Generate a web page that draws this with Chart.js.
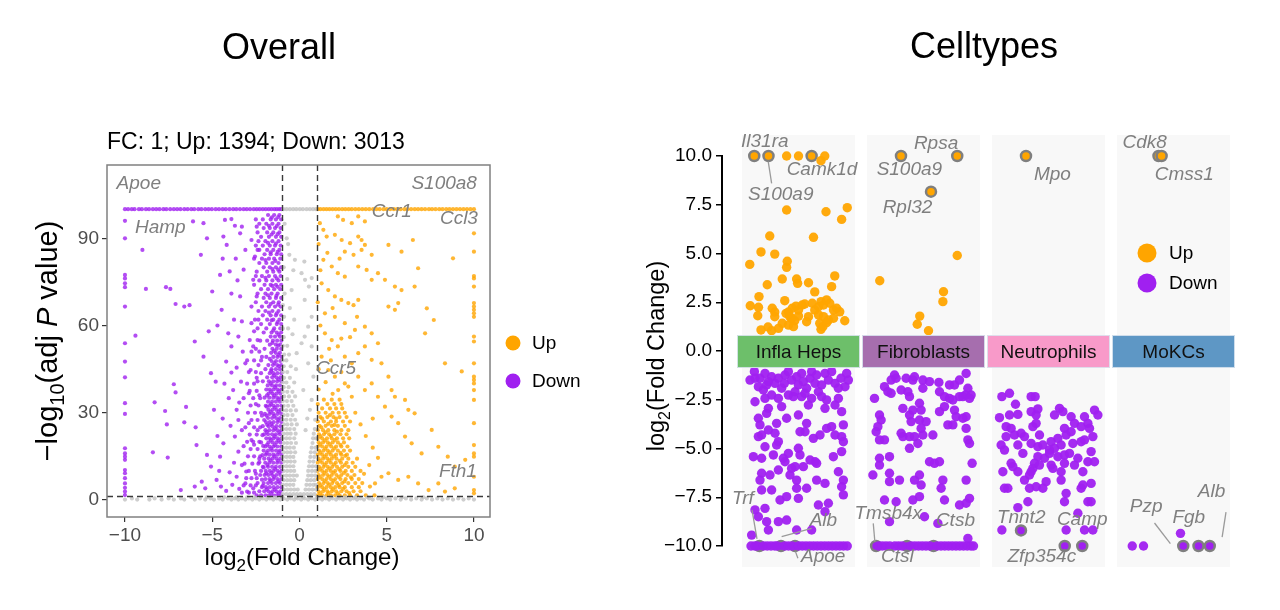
<!DOCTYPE html>
<html><head><meta charset="utf-8">
<script src="https://cdn.jsdelivr.net/npm/chart.js@4.4.0/dist/chart.umd.min.js"></script>
<style>
html,body{margin:0;padding:0;background:#fff;width:1280px;height:610px;overflow:hidden}
canvas{position:absolute;top:0}
#c1{left:0}
#c2{left:620px}
</style></head><body>
<canvas id="c1" width="620" height="610"></canvas>
<canvas id="c2" width="660" height="610"></canvas>
<script>
// ================= DATA : Overall (volcano) =================
const volcanoXTicks = [-10, -5, 0, 5, 10];
const volcanoYTicks = [0, 30, 60, 90];
const volcanoVLines = [-1, 1];
const volcanoHLine = 1.3;
const volcanoSubtitle = 'FC: 1; Up: 1394; Down: 3013';
const legendNames = ['Up', 'Down'];

// points capped at -log10(p) = 100
const downTopX = [-10,-9.82,-9.61,-9.45,-9.2,-9.03,-8.8,-8.62,-8.4,-8.21,-8.02,-7.8,-7.63,-7.41,-7.2,-7.01,-6.82,-6.6,-6.41,-6.2,-6.03,-5.8,-5.62,-5.4,-5.21,-5.02,-4.8,-4.61,-4.4,-4.22,-4.01,-3.8,-3.62,-3.41,-3.2,-3.02,-2.83,-2.62,-2.45,-2.28,-2.1,-1.93,-1.76,-1.6,-1.44,-1.3,-1.16,-1.04];
const upTopX = [1.05,1.2,1.38,1.55,1.72,1.9,2.08,2.26,2.45,2.63,2.82,3.0,3.2,3.4,3.6,3.8,4.0,4.22,4.41,4.6,4.82,5.0,5.2,5.41,5.6,5.8,6.02,6.2,6.4,6.61,6.8,7.0,7.2,7.42,7.6,7.8,8.01,8.2,8.41,8.6,8.8,9.0,9.2,9.4,9.6,9.8,10];
const nsTopX = [-0.92,-0.74,-0.55,-0.36,-0.18,0.02,0.2,0.41,0.6,0.78,0.95];
// points capped at log2FC = -10 / +10
const downColY = [96,90,77.4,76.2,74.5,73.2,66.5,53.9,47.6,42.2,33.3,29.6,17.8,16,14.9,13.8,10.3,9.2,7.5,5.7,4.2,2.9,1.7];
const upColY = [91.7,85.4,77,76.2,73.4,67.7,66.5,65.4,64.2,63,56.2,54.5,47,42.4,41.3,40.1,37.8,34.4,26.4,18.9,16,14.9,8,3.4,2.3];

// dense rows: [y, [x...]]
const downRows = [
 [1.6,[-1.05,-1.3,-1.5,-1.75,-1.95,-2.2,-2.45]],[3.0,[-1.1,-1.32,-1.55,-1.78,-2.02,-2.3]],
 [4.4,[-1.04,-1.26,-1.48,-1.7,-1.92,-2.15]],[5.8,[-1.12,-1.35,-1.58,-1.8,-2.05,-2.4]],
 [7.2,[-1.05,-1.27,-1.5,-1.72,-1.95]],[8.6,[-1.1,-1.33,-1.56,-1.78,-2.0,-2.25]],
 [10,[-1.04,-1.26,-1.49,-1.7,-1.93]],[11.4,[-1.12,-1.35,-1.57,-1.8,-2.1]],
 [12.8,[-1.05,-1.28,-1.5,-1.73,-1.96]],[14.2,[-1.1,-1.32,-1.55,-1.77,-2.02,-2.3]],
 [15.6,[-1.04,-1.26,-1.48,-1.7,-1.92]],[17,[-1.12,-1.34,-1.57,-1.8,-2.05]],
 [18.4,[-1.05,-1.27,-1.5,-1.72,-1.95]],[19.8,[-1.1,-1.33,-1.55,-1.78,-2.2]],
 [21.2,[-1.04,-1.26,-1.48,-1.7,-1.9]],[22.6,[-1.12,-1.35,-1.57,-1.8,-2.02]],
 [24,[-1.05,-1.28,-1.5,-1.73,-1.95]],[25.4,[-1.1,-1.32,-1.55,-1.77,-2.1]],
 [26.8,[-1.04,-1.26,-1.48,-1.7,-1.92]],[28.2,[-1.12,-1.34,-1.57,-1.8]],
 [29.6,[-1.05,-1.27,-1.5,-1.72,-1.98]],[31,[-1.1,-1.33,-1.55,-1.78]],
 [32.4,[-1.04,-1.26,-1.48,-1.7,-1.93]],[33.8,[-1.12,-1.35,-1.57,-1.8]],
 [35.2,[-1.05,-1.28,-1.5,-1.73,-2.0]],[36.6,[-1.1,-1.32,-1.55,-1.77]],
 [38,[-1.04,-1.26,-1.48,-1.7,-1.9]],[39.4,[-1.12,-1.34,-1.57,-1.82]],
 [40.8,[-1.05,-1.28,-1.5,-1.75,-2.1,-2.4]],[42.2,[-1.1,-1.33,-1.56,-1.85]],
 [43.6,[-1.04,-1.27,-1.5,-1.7,-2.2]],[45,[-1.12,-1.35,-1.6,-1.95]],
 [46.4,[-1.05,-1.28,-1.52,-1.78,-2.35]],[47.8,[-1.1,-1.34,-1.6]],
 [49.2,[-1.04,-1.27,-1.5,-1.9,-2.15]],[50.6,[-1.12,-1.36,-1.62]],
 [52,[-1.05,-1.3,-1.55,-2.0,-2.5]],[53.4,[-1.1,-1.35,-1.7]],
 [54.8,[-1.04,-1.28,-1.52,-1.85,-2.25]],[56.2,[-1.12,-1.4,-1.65]],
 [57.6,[-1.05,-1.3,-1.6,-2.05]],[59,[-1.1,-1.45,-1.9,-2.4]],
 [60.5,[-1.05,-1.3,-1.7,-2.2]],[62,[-1.15,-1.5,-1.85,-2.55]],
 [63.5,[-1.05,-1.35,-1.65,-2.1]],[65,[-1.2,-1.55,-1.95,-2.35]],
 [66.5,[-1.08,-1.4,-1.75,-2.15]],[68,[-1.18,-1.5,-1.9,-2.5]],
 [69.5,[-1.05,-1.35,-1.7,-2.05]],[71,[-1.25,-1.6,-1.95,-2.4]],
 [72.5,[-1.1,-1.45,-1.8,-2.2]],[74,[-1.05,-1.35,-1.65,-2.0,-2.6]],
 [75.5,[-1.2,-1.55,-1.9,-2.3]],[77,[-1.08,-1.4,-1.75,-2.15]],
 [78.5,[-1.15,-1.5,-1.85,-2.45]],[80,[-1.05,-1.35,-1.7,-2.05]],
 [81.5,[-1.2,-1.55,-1.9,-2.3]],[83,[-1.1,-1.45,-1.75,-2.15,-2.6]],
 [84.5,[-1.05,-1.3,-1.65,-2.0]],[86,[-1.15,-1.5,-1.85,-2.3]],
 [87.5,[-1.08,-1.4,-1.7,-2.1,-2.5]],[89,[-1.2,-1.55,-1.95,-2.35]],
 [90.5,[-1.05,-1.35,-1.75,-2.2]],[92,[-1.15,-1.5,-1.85,-2.4]],
 [93.5,[-1.08,-1.4,-1.7,-2.05]],[95,[-1.2,-1.55,-1.9,-2.3]],
 [96.5,[-1.05,-1.35,-1.65,-2.1,-2.5]],[98,[-1.15,-1.45,-1.8]]
];
const downRowsOuter = [
 [2.5,[-2.6,-2.9,-3.3]],[5,[-2.5,-2.8,-3.2]],[7.5,[-2.45,-2.75,-3.05]],[10,[-2.2,-2.55,-2.9]],
 [12.5,[-2.35,-2.7,-3.15]],[15,[-2.25,-2.6,-2.95]],[17.5,[-2.4,-2.8]],[20,[-2.3,-2.65,-3.0]],
 [22.5,[-2.45,-2.85]],[25,[-2.25,-2.6,-3.1]],[27.5,[-2.4,-2.75]],[30,[-2.2,-2.55,-2.95]],
 [32.5,[-2.35,-2.8]],[35,[-2.25,-2.65,-3.2]],[37.5,[-2.45,-2.85]],[40,[-2.6,-3.0]],
 [44,[-2.5,-2.9]],[48,[-2.6,-3.0]],[51,[-2.3,-2.75]],[55,[-2.4,-2.85]]
];
const downFill = [[-1.18,2.3],[-1.42,3.6],[-1.63,2.4],[-1.87,3.7],[-2.1,4.9],[-1.2,6.4],[-1.45,7.9],[-1.66,6.6],[-1.9,9.2],[-2.15,7.0],[-1.16,9.4],[-1.4,10.7],[-1.61,9.3],[-1.84,12.0],[-2.05,11.2],[-1.22,13.5],[-1.44,15.0],[-1.66,13.6],[-1.88,16.2],[-2.12,15.4],[-1.17,16.4],[-1.41,18.9],[-1.62,17.7],[-1.86,19.0],[-2.08,18.6],[-1.2,20.5],[-1.43,21.9],[-1.64,20.6],[-1.87,23.4],[-2.12,22.3],[-1.16,23.3],[-1.4,24.6],[-1.61,26.1],[-1.85,25.9],[-2.02,27.5],[-1.21,27.5],[-1.45,28.9],[-1.65,30.3],[-1.89,29.0],[-1.18,30.4],[-1.42,31.8],[-1.63,33.0],[-1.87,32.1],[-1.2,34.6],[-1.44,35.9],[-1.64,37.3],[-1.86,36.0],[-1.18,37.4],[-1.4,38.8],[-1.65,40.1],[-1.2,41.5],[-1.45,42.9],[-1.62,44.4],[-1.18,46],[-1.44,47.1],[-1.7,48.5],[-1.2,49.9],[-1.46,51.3],[-1.22,53.1],[-1.55,54],[-1.2,56.9],[-1.5,58.3],[-1.25,61.2],[-1.6,61.8],[-1.3,64.2],[-1.75,64.4],[-1.22,67.2],[-1.65,67.4],[-1.32,70.2],[-1.8,70.4],[-1.25,73.3],[-1.55,73.6],[-1.3,76.2],[-1.95,76.4],[-1.22,79.2],[-1.55,79.4],[-1.38,82.2],[-1.95,82.5],[-1.25,85.3],[-1.65,85.2],[-1.35,88.2],[-1.8,88.4],[-1.25,91.4],[-1.6,91.3],[-1.3,94.2],[-1.75,94.3],[-1.22,97.3],[-1.58,97.2],[-2.35,62],[-2.45,70],[-2.5,77],[-2.4,86],[-2.45,94],[-2.6,58],[-2.2,48],[-2.45,42],[-2.3,36],[-2.5,33],[-2.15,29],[-2.4,24],[-2.6,19],[-2.3,13],[-2.5,9],[-2.65,4]];
const downScatter = [[-9,86],[-9.4,56.5],[-8.8,72.6],[-7.65,73.2],[-7.4,72.6],[-7.1,67.4],[-6.6,66.5],[-6.3,67],[-6.1,95.8],[-5.5,95.2],[-5.65,84.3],[-6.0,54.5],[-5.5,49.3],[-5.0,71.7],[-5.07,43.6],[-4.8,40.7],[-8.3,33.6],[-7.7,30.6],[-7.6,26],[-7.2,39.8],[-7.1,37],[-6.6,26.7],[-6.5,32],[-5.95,25],[-5.9,18.9],[-8.4,16.4],[-7.55,14.6],[-6.8,3.4],[-6.0,4.6],[-5.6,6.3],[-5.4,4],[-5.07,11.5],[-4.75,6.9],[-4.55,14.9],[-4.5,4.6],[-4.36,19.5],[-4.9,31],[-4.4,83],[-4.27,96.3],[-3.9,96.6],[-3.7,94.3],[-4.36,90.6],[-4.17,87.7],[-4,78.6],[-4.55,77.4],[-4.46,65.4],[-4.08,57.3],[-3.9,52.8],[-4.2,47.6],[-3.9,43.8],[-3.8,37.8],[-4.05,35],[-3.6,31],[-3.7,21.8],[-3.5,16.6],[-3.3,12],[-3.6,8],[-3.1,5.7],[-3.0,2.9],[-3.4,70],[-3.3,61.4],[-3.5,56.2],[-3.1,47],[-3.35,40.7],[-2.9,36.7],[-2.9,26.4],[-2.75,20.6],[-3.2,79.2],[-3.1,86],[-3.4,91.7],[-3.3,94],[-2.75,89.4],[-2.55,83.7],[-2.65,75.7],[-2.75,66.5],[-2.75,60.8],[-2.65,52.8],[-2.8,44.7],[-4.2,3.1],[-3.85,5.2],[-4.0,9.5],[-3.45,3.8],[-3.75,12.8],[-4.6,10],[-3.95,25.5],[-4.4,28],[-3.3,24],[-3.5,27.5],[-4.7,22],[-5.3,15.5],[-3.2,18.5],[-3.05,9.8],[-3.45,33.5],[-4.3,40],[-3.6,45.5],[-3.25,51],[-3.75,62],[-3.9,71],[-3.55,75.5],[-3.65,83],[-4.7,60],[-5.2,58],[-5.3,90]];

const upRows = [
 [1.6,[1.05,1.3,1.55,1.8,2.05,2.3,2.6,2.9,3.3,3.8,4.3]],[3.0,[1.1,1.35,1.6,1.85,2.1,2.4,2.7,3.1,3.5]],
 [4.4,[1.05,1.3,1.55,1.8,2.05,2.3,2.6,3.0,3.4]],[5.8,[1.12,1.38,1.62,1.88,2.15,2.45,2.8,3.2,3.6]],
 [7.2,[1.05,1.3,1.55,1.8,2.05,2.35,2.65,3.0,3.4]],[8.6,[1.1,1.35,1.6,1.85,2.12,2.4,2.75,3.15]],
 [10,[1.05,1.3,1.55,1.8,2.05,2.35,2.65,3.0,3.5]],[11.4,[1.12,1.38,1.62,1.88,2.15,2.45,2.8,3.2]],
 [12.8,[1.05,1.3,1.55,1.8,2.08,2.38,2.7,3.05]],[14.2,[1.1,1.35,1.6,1.85,2.12,2.45,2.8,3.3]],
 [15.6,[1.05,1.3,1.55,1.8,2.1,2.4,2.72]],[17,[1.12,1.38,1.62,1.9,2.2,2.55,2.9]],
 [18.4,[1.05,1.3,1.55,1.82,2.1,2.4,2.75]],[19.8,[1.1,1.35,1.62,1.9,2.2,2.55]],
 [21.2,[1.05,1.3,1.58,1.85,2.15,2.5,2.85]],[22.6,[1.12,1.4,1.7,2.0,2.35,2.7]],
 [24,[1.05,1.35,1.65,2.0,2.4,2.8]],[25.5,[1.15,1.5,1.85,2.2,2.6]],
 [27,[1.05,1.4,1.8,2.1,2.5,2.9]],[28.5,[1.2,1.6,1.95,2.3,2.7]],
 [30,[1.1,1.5,1.9,2.25,2.6]],[31.5,[1.3,1.75,2.1,2.45]],
 [33,[1.05,1.6,2.0,2.4]],[34.5,[1.4,1.85,2.3]]
];
const upFill = [[1.18,2.3],[1.42,3.7],[1.66,2.4],[1.92,3.7],[2.2,2.3],[2.5,3.8],[2.85,2.4],[1.2,5.1],[1.45,6.5],[1.7,5.2],[1.95,6.6],[2.25,5.1],[2.58,6.4],[2.95,7.8],[1.17,7.9],[1.43,9.3],[1.7,8.0],[1.95,9.4],[2.25,7.9],[2.55,9.3],[1.2,10.7],[1.45,12.1],[1.72,10.8],[1.98,12.2],[2.28,10.6],[2.6,12.0],[1.18,13.5],[1.44,14.9],[1.7,13.6],[1.98,15.0],[2.3,13.5],[2.62,15.2],[1.2,16.3],[1.47,17.7],[1.72,16.4],[2.0,17.8],[2.35,16.2],[1.18,19.1],[1.45,20.5],[1.73,19.2],[2.02,20.6],[2.35,19.0],[1.2,21.9],[1.5,23.3],[1.8,22.0],[2.15,23.5],[1.25,25.0],[1.65,26.2],[2.0,25.8],[1.3,28.0],[1.75,29.2],[2.1,28.0]];
const upScatter = [[1.17,95.2],[1.37,92.9],[1.56,90.6],[2.2,97.5],[2.5,96.3],[3.0,95.2],[3.37,97.5],[3.75,95.8],[2.03,91.2],[2.42,89.4],[2.9,88.3],[3.37,90.6],[3.56,89.4],[3.75,87.7],[2.6,85.4],[3.1,84.3],[3.56,86],[4.14,84.3],[5.1,87.7],[5.85,85.4],[6.5,89.4],[1.37,82.6],[1.85,80.3],[2.2,78],[2.6,76.8],[3.37,80.3],[3.85,79.1],[4.14,75.7],[4.5,78],[4.9,75.7],[5.47,73.4],[5.85,72.2],[6.8,79.7],[8.8,83.1],[6.6,73.4],[1.27,74.5],[1.65,72.2],[2.03,70],[2.4,68.8],[2.8,67.7],[3.1,67],[3.37,68.8],[1.46,64.2],[2.03,63],[2.6,60.8],[3.18,58.5],[3.75,59.6],[4.14,57.3],[4.5,53.9],[5.1,66.5],[5.47,65.4],[5.66,67.7],[7.3,65.9],[7.7,61.9],[1.46,57.3],[1.85,55],[2.2,52.8],[2.6,49.3],[3.0,47],[3.37,50.5],[3.75,52.8],[4.14,48.2],[4.7,47],[5.1,42.4],[5.28,37.8],[5.47,35.5],[6.05,34.4],[6.24,31],[6.6,29.8],[7.2,57.3],[8.34,47],[9.3,44.2],[1.27,49.3],[1.65,44.7],[2.03,42.4],[2.22,37.8],[2.6,40.1],[3.0,35.5],[3.37,42.4],[3.75,37.8],[4.14,40.1],[4.5,35.5],[4.9,32.1],[5.28,28.7],[5.66,26.4],[6.05,21.8],[6.43,19.5],[7.0,16],[7.58,24.1],[7.96,18.3],[8.5,14.9],[8.9,11.5],[9.5,13.8],[5.1,9.2],[5.66,6.9],[6.24,8],[6.8,5.7],[7.4,3.4],[7.96,5.7],[8.34,2.9],[8.9,4],[4.33,5.7],[4.7,8],[4.04,4.6],[1.1,38],[1.5,40.5],[1.9,36.5],[2.4,44],[2.8,39],[3.2,30],[3.5,26],[3.8,22],[4.2,18],[4.0,12],[3.7,9],[4.5,14.5],[4.2,28],[1.1,45],[1.8,48],[2.4,55.5],[1.2,60],[1.7,52],[2.9,56],[3.3,63],[1.05,68],[1.9,66],[1.1,88],[1.6,85],[2.3,83],[1.2,79]];

const nsRows = [
 [2.0,[-0.95,-0.75,-0.55,-0.35,-0.15,0.05,0.25,0.45,0.65,0.85]],[3.6,[-0.9,-0.7,-0.5,-0.3,-0.1,0.35,0.55,0.75,0.95]],
 [5.2,[-0.95,-0.75,-0.55,-0.35,0.4,0.6,0.8,0.95]],[6.8,[-0.9,-0.7,-0.5,-0.3,0.45,0.65,0.85]],
 [8.4,[-0.95,-0.75,-0.55,-0.35,-0.15,0.5,0.7,0.9]],[10,[-0.9,-0.7,-0.5,-0.3,0.5,0.72,0.92]],
 [11.6,[-0.95,-0.75,-0.55,-0.35,0.55,0.75,0.95]],[13.2,[-0.9,-0.7,-0.5,-0.28,0.58,0.8]],
 [14.8,[-0.95,-0.75,-0.55,-0.35,0.62,0.85]],[16.4,[-0.9,-0.7,-0.5,-0.25,0.65,0.88]],
 [18,[-0.95,-0.75,-0.55,-0.32,0.7,0.92]],[19.6,[-0.9,-0.7,-0.48,-0.2,0.75]],
 [21.2,[-0.95,-0.75,-0.55,-0.3,0.78,0.95]],[22.8,[-0.9,-0.7,-0.5,-0.22,0.82]],
 [24.4,[-0.95,-0.75,-0.55,-0.3,0.88]],[26,[-0.9,-0.7,-0.45,-0.15]],
 [27.6,[-0.95,-0.75,-0.5,-0.25,0.9]],[29.2,[-0.9,-0.68,-0.4]],
 [30.8,[-0.95,-0.75,-0.5,-0.2]],[32.4,[-0.9,-0.65,-0.35]],
 [34,[-0.95,-0.72,-0.45]],[35.6,[-0.88,-0.6,-0.25]],[37.2,[-0.95,-0.7,-0.4]],
 [38.8,[-0.9,-0.62]],[40.4,[-0.95,-0.75,-0.3]],[42,[-0.88,-0.55]],[44,[-0.95,-0.7]],
 [46,[-0.9,-0.5]],[48,[-0.95,-0.75]],[50,[-0.88,-0.6]],[53,[-0.95,-0.7]],[56,[-0.9]],
 [59,[-0.95,-0.65]],[63,[-0.88]],[67,[-0.95]],[71,[-0.85]],
 [0.15,[-10,-9.3,-8.6,-7.9,-7.2,-6.6,-6.0,-5.4,-4.9,-4.4,-3.9,-3.5,-3.1,-2.7,-2.3,-1.9,-1.5,-1.1,-0.7,-0.3,0.1,0.5,0.9,1.3,1.7,2.1,2.5,2.9,3.3,3.7,4.2,4.7,5.2,5.8,6.4,7.0,7.6,8.2,8.8,9.4,10]],
 [0.55,[-9.6,-8.3,-7.5,-6.8,-5.7,-5.1,-4.6,-4.1,-3.7,-3.3,-2.9,-2.5,-2.1,-1.7,-1.3,-0.9,-0.5,-0.1,0.3,0.7,1.1,1.5,1.9,2.3,2.7,3.1,3.5,4.0,4.5,5.0,5.5,6.1,6.7,7.3,7.9,8.5,9.1,9.7]],
 [0.95,[-6.2,-5.3,-4.3,-3.6,-3.0,-2.6,-2.2,-1.8,-1.4,-1.0,-0.6,-0.2,0.2,0.6,1.0,1.4,1.8,2.2,2.6,3.2,3.9,4.8,5.9,7.1]]
];
const nsScatter = [[-0.73,90],[-0.58,84.3],[-0.26,82.6],[0.28,82],[-0.35,79],[0.12,78],[0.32,75.7],[0.7,76.3],[0.54,73.4],[-0.45,72.2],[0.3,68.8],[0.7,63],[0.5,59.6],[0.3,56.2],[0.12,53.9],[0.7,52.8],[-0.16,50.5],[0.5,47],[0.8,42.4],[0.22,37.8],[0.7,34.4],[-0.85,95],[-0.65,88],[-0.9,80],[-0.7,76],[-0.55,66],[-0.3,62],[-0.4,57],[-0.2,45],[0.45,28],[0.6,31],[0.35,24]];

// ================= DATA : Celltypes =================
const cellTypes = ['Infla Heps', 'Fibroblasts', 'Neutrophils', 'MoKCs'];
const cellYTicks = [-10, -7.5, -5, -2.5, 0, 2.5, 5, 7.5, 10];
// [jitter, log2FC] per cell type
const upInfla = [[-0.095,10],[0,10],[0.21,10],[0.18,9.76],[-0.095,7.23],[0.22,7.14],[0.39,7.35],[0.345,6.75],[-0.23,5.9],[0.12,5.83],[-0.3,5.08],[-0.19,4.97],[-0.39,4.44],[-0.09,4.6],[-0.095,4.29],[-0.13,3.69],[-0.015,3.69],[-0.007,3.47],[0.29,3.85],[-0.25,3.4],[0.265,3.3],[0.08,3.5],[0.13,3.03],[-0.316,2.79],[-0.386,2.32],[-0.32,2.24],[-0.326,1.81],[-0.3,1.08],[-0.244,1.23],[-0.215,1.04],[-0.21,2.19],[-0.19,2.0],[-0.19,1.76],[-0.13,1.42],[-0.1,1.93],[-0.08,2.0],[-0.07,1.76],[-0.05,2.19],[-0.02,2.3],[0,2.1],[0.03,2.36],[0.05,2.41],[-0.055,1.67],[-0.03,1.55],[0,1.79],[-0.08,1.33],[-0.04,1.25],[-0.16,1.16],[-0.11,2.58],[0.11,2.45],[0.13,2.1],[0.16,2.27],[0.18,2.53],[0.2,2.36],[0.225,2.62],[0.25,2.45],[0.28,2.1],[0.305,2.19],[0.33,2.01],[0.37,1.55],[0.16,1.85],[0.2,1.76],[0.24,1.59],[0.28,1.68],[0.17,1.42],[0.225,1.45],[0.195,1.25],[0.18,1.11],[0.08,1.76],[0.065,1.5]];
const upFibro = [[0.27,4.9],[-0.35,3.6],[0.16,3.04],[0.155,2.53],[-0.03,1.79],[-0.05,1.37],[0.04,1.04]];
const upNeutro = [];
const upMoKC = [];
const downInfla = [[-0.388,-1.49],[-0.353,-1.06],[-0.308,-1.4],[-0.268,-1.15],[-0.241,-1.57],[-0.215,-1.32],[-0.321,-1.83],[-0.281,-2.0],[-0.348,-2.6],[-0.188,-1.66],[-0.161,-1.4],[-0.108,-1.23],[-0.113,-1.66],[-0.081,-1.06],[-0.055,-1.49],[-0.015,-1.32],[-0.001,-1.74],[0.025,-1.15],[0.039,-1.57],[0.065,-1.91],[0.092,-1.4],[0.105,-1.06],[0.132,-1.66],[0.159,-2.09],[0.212,-1.15],[0.239,-1.49],[0.265,-1.06],[0.292,-1.66],[0.34,-1.4],[0.372,-1.83],[0.399,-1.49],[0.385,-1.15],[-0.215,-2.26],[-0.161,-2.43],[-0.081,-2.26],[-0.028,-2.09],[0.025,-2.34],[0.052,-2.17],[0.105,-2.43],[0.185,-2.34],[0.225,-2.51],[0.292,-2.77],[0.319,-2.43],[0.345,-3.11],[0.359,-3.79],[-0.321,-3.45],[-0.308,-3.79],[-0.255,-3.2],[-0.241,-2.94],[-0.175,-3.71],[-0.135,-2.85],[-0.095,-3.45],[-0.001,-3.28],[0.065,-3.71],[0.012,-4.14],[0.052,-4.14],[0.119,-4.48],[0.172,-4.31],[0.225,-3.97],[0.265,-3.88],[0.292,-4.31],[0.345,-4.39],[0.359,-4.65],[-0.295,-4.31],[-0.321,-4.39],[-0.241,-4.05],[-0.188,-4.22],[-0.161,-4.65],[-0.175,-4.82],[-0.268,-4.91],[-0.361,-5.42],[-0.295,-5.5],[-0.201,-5.33],[-0.121,-5.5],[-0.108,-5.68],[-0.081,-5.25],[-0.001,-4.99],[0.012,-5.33],[-0.028,-5.93],[0.039,-5.93],[0.092,-5.59],[0.145,-5.76],[0.145,-6.62],[0.279,-5.42],[0.345,-5.16],[0.319,-6.19],[-0.295,-6.27],[-0.308,-6.62],[-0.228,-6.36],[-0.161,-6.1],[-0.068,-6.36],[-0.015,-6.62],[-0.055,-6.02],[0.132,-5.68],[0.212,-6.79],[0.359,-6.62],[0.345,-6.96],[-0.295,-7.13],[-0.215,-7.13],[-0.148,-7.64],[-0.095,-7.47],[-0.015,-7.04],[-0.001,-7.56],[0.065,-7.04],[0.159,-7.9],[0.212,-8.24],[0.359,-7.38],[-0.348,-8.15],[-0.268,-8.07],[-0.321,-8.5],[-0.255,-8.75],[-0.241,-9.18],[-0.161,-8.75],[-0.095,-8.67],[-0.015,-9.18],[-0.375,-9.44],[0.105,-9.18],[0.239,-7.81],[-0.348,-1.4],[-0.255,-1.74],[-0.135,-1.91],[-0.041,-2.34],[0.145,-1.23],[0.185,-1.74],[0.319,-1.91],[0.079,-2.77],[0.212,-2.94],[-0.268,-2.43]];
const downFibro = [[-0.232,-1.23],[-0.259,-1.49],[-0.219,-1.4],[-0.139,-1.4],[-0.085,-1.49],[-0.072,-1.32],[-0.005,-1.49],[0.048,-1.57],[0.123,-1.61],[0.208,-1.74],[0.248,-1.74],[0.288,-1.49],[0.341,-1.15],[0.355,-1.91],[0.381,-2.26],[0.336,-2.26],[-0.312,-1.83],[-0.285,-2.09],[-0.259,-2.17],[-0.392,-2.43],[-0.179,-2.0],[-0.125,-2.09],[-0.112,-2.34],[-0.005,-1.91],[0.128,-2.09],[0.168,-2.34],[0.208,-2.43],[0.235,-2.51],[0.288,-2.34],[0.315,-2.34],[0.368,-2.43],[-0.165,-2.94],[-0.112,-3.28],[-0.085,-3.03],[-0.032,-2.68],[-0.019,-3.03],[-0.032,-3.54],[-0.099,-3.62],[0.021,-3.62],[0.128,-3.11],[0.168,-2.85],[0.248,-3.03],[0.261,-3.37],[0.315,-3.45],[0.341,-3.37],[0.341,-3.97],[0.195,-3.79],[0.235,-3.79],[-0.352,-3.28],[-0.339,-3.54],[-0.365,-3.88],[-0.379,-4.14],[-0.312,-4.56],[-0.352,-4.56],[-0.179,-4.22],[-0.165,-4.39],[-0.112,-4.39],[-0.072,-4.39],[-0.005,-4.31],[0.075,-4.31],[-0.019,-3.97],[-0.045,-4.74],[-0.112,-4.99],[0.355,-4.56],[0.368,-4.74],[0.048,-5.68],[0.088,-5.76],[0.128,-5.68],[-0.352,-5.5],[-0.272,-5.42],[-0.352,-5.85],[-0.405,-6.36],[-0.272,-6.27],[-0.272,-6.7],[-0.192,-6.62],[-0.072,-6.62],[-0.032,-6.36],[-0.019,-6.87],[0.155,-6.62],[0.141,-7.04],[0.341,-6.62],[0.389,-5.76],[0.368,-7.56],[-0.312,-7.64],[-0.219,-7.73],[-0.085,-7.64],[-0.032,-7.47],[0.168,-7.64],[0.288,-7.9],[0.008,-8.5],[-0.272,-8.75],[0.115,-8.84],[0.341,-7.81],[0.355,-9.61]];
const downNeutro = [[-0.373,-2.34],[-0.312,-2.17],[-0.264,-2.73],[-0.139,-2.34],[-0.107,-2.34],[-0.392,-3.42],[-0.312,-3.28],[-0.245,-3.25],[-0.139,-3.11],[-0.099,-3.28],[-0.085,-2.97],[0.048,-3.28],[0.088,-2.94],[0.115,-3.11],[0.181,-3.37],[0.288,-3.37],[0.368,-3.03],[0.395,-3.28],[-0.339,-3.88],[-0.299,-3.97],[-0.339,-4.39],[-0.272,-4.31],[-0.219,-4.22],[-0.192,-4.39],[-0.125,-3.88],[-0.099,-3.71],[-0.072,-4.31],[0.021,-4.65],[0.075,-4.48],[0.128,-3.97],[0.141,-4.31],[0.181,-4.14],[0.208,-3.71],[0.261,-3.88],[0.315,-3.71],[0.328,-3.97],[0.355,-4.39],[-0.379,-4.82],[-0.352,-5.08],[-0.245,-4.82],[-0.139,-4.74],[-0.085,-4.91],[-0.045,-4.82],[0.008,-5.08],[0.048,-4.99],[0.101,-4.82],[0.195,-4.74],[0.261,-4.65],[0.288,-4.56],[0.341,-5.16],[-0.205,-5.25],[-0.085,-5.42],[-0.032,-5.5],[0.008,-5.25],[0.075,-5.42],[0.128,-5.33],[0.168,-5.25],[0.235,-5.5],[0.315,-5.68],[0.368,-5.68],[-0.299,-5.76],[-0.285,-5.93],[-0.112,-5.76],[-0.125,-6.02],[-0.072,-5.85],[0.021,-5.85],[0.035,-6.02],[0.128,-5.76],[0.208,-5.85],[-0.365,-6.19],[-0.245,-6.19],[-0.139,-6.19],[-0.152,-6.36],[0.101,-6.19],[0.275,-6.19],[-0.192,-6.62],[-0.019,-6.7],[0.101,-6.62],[-0.352,-7.04],[-0.325,-7.04],[-0.152,-7.04],[-0.099,-6.96],[-0.045,-7.04],[0.141,-7.3],[0.261,-7.04],[0.275,-6.87],[0.341,-6.79],[-0.245,-8.03],[-0.165,-7.73],[0.128,-7.73],[0.315,-7.73],[0.341,-7.73],[0.235,-8.32],[-0.373,-9.18],[0.141,-9.18],[0.288,-9.18],[0.355,-9.18]];
const downMoKC = [[-0.33,-10],[-0.24,-10],[0.056,-9.35]];
// points at log2FC = -10 floor (jitter only)
const floorInfla = [-0.38,-0.35,-0.33,-0.28,-0.25,-0.22,-0.19,-0.17,-0.11,-0.08,-0.05,0.0,0.03,0.06,0.09,0.12,0.15,0.18,0.21,0.24,0.27,0.3,0.33,0.36,0.39];
const floorFibro = [-0.36,-0.33,-0.3,-0.27,-0.23,-0.2,-0.17,-0.1,-0.07,-0.04,-0.01,0.02,0.05,0.11,0.14,0.17,0.2,0.23,0.26,0.29,0.32,0.35,0.38,0.4];
// highlighted (labelled) genes: [gene, category index, jitter, log2FC]
const upLabelled = [['Il31ra',1,-0.354,10],['S100a9',1,-0.24,10],['Camk1d',1,0.105,10],['S100a9',2,-0.18,10],['Rpsa',2,0.27,10],['Rpl32',2,0.06,8.17],['Mpo',3,-0.18,10],['Cdk8',4,-0.12,10],['Cmss1',4,-0.095,10]];
const downLabelled = [['Trf',1,-0.313,-10],['Alb',1,-0.14,-10],['Apoe',1,-0.028,-10],['Tmsb4x',2,-0.379,-10],['Ctsl',2,-0.131,-10],['Ctsb',2,0.08,-10],['Tnnt2',3,-0.22,-9.2],['Zfp354c',3,0.13,-10],['Camp',3,0.27,-10],['Pzp',4,0.078,-10],['Fgb',4,0.2,-10],['Alb',4,0.29,-10]];

// ================= annotation layout =================
const FF = "'Liberation Sans', Arial, Helvetica, sans-serif";
const C_UP = '#FFA500', C_DOWN = '#A020F0';
const LBL = '#7f7f7f';
const volcanoLabels = [['Apoe',-10.48,108.7,'left'],['S100a8',10.17,108.7,'right'],['Hamp',-9.43,93.6,'left'],['Ccr1',4.14,99.1,'left'],['Ccl3',8.05,96.7,'left'],['Ccr5',0.95,45.1,'left'],['Fth1',7.99,9.6,'left']];
const cellLabels = [['Il31ra',0.54,10.73],['Camk1d',0.905,9.3],['S100a9',0.596,8.0],['Rpsa',1.923,10.62],['S100a9',1.625,9.3],['Rpl32',1.673,7.36],['Mpo',2.883,9.03],['Cdk8',3.592,10.69],['Cmss1',3.85,9.03],['Trf',0.468,-7.59],['Alb',1.089,-8.72],['Apoe',1.02,-10.56],['Tmsb4x',1.448,-8.36],['Ctsl',1.659,-10.56],['Ctsb',2.099,-8.72],['Tnnt2',2.587,-8.56],['Camp',3.067,-8.67],['Zfp354c',2.672,-10.56],['Pzp',3.65,-8.0],['Fgb',3.991,-8.56],['Alb',4.194,-7.23]];
const cellLeaders = [[0.758,9.71,0.785,8.6],[0.628,-8.15,0.668,-9.64],[1.105,-9.09,0.865,-9.52],[0.976,-10.29,0.995,-10.63],[1.598,-8.84,1.611,-9.78],[3.848,-8.82,3.975,-9.88],[4.42,-8.26,4.389,-9.54]];
const stripColors = ['#6dbf6a', '#a66eae', '#f89ac9', '#5e97c5'];

// ================= helpers =================
const rowsToPts = rows => rows.flatMap(([y, xs]) => xs.map(x => ({x, y})));
const pairsToPts = arr => arr.map(([x, y]) => ({x, y}));
const jitterPts = (arr, cat) => arr.map(([j, y]) => ({x: cat + j, y}));
const fmtMinus = v => (v < 0 ? '\u2212' : '') + Math.abs(v);

function rich(ctx, parts, x, y, rot) {
  ctx.save();
  ctx.translate(x, y);
  if (rot) ctx.rotate(rot);
  ctx.textAlign = 'left'; ctx.textBaseline = 'alphabetic'; ctx.fillStyle = '#000';
  let w = 0;
  const ms = parts.map(p => { ctx.font = (p[3] || '') + ' ' + p[1] + 'px ' + FF; const m = ctx.measureText(p[0]).width; w += m; return m; });
  let cx = -w / 2;
  parts.forEach((p, i) => { ctx.font = (p[3] || '') + ' ' + p[1] + 'px ' + FF; ctx.fillText(p[0], cx, p[2] || 0); cx += ms[i]; });
  ctx.restore();
}

// ================= LEFT CHART =================
const nsPts = [...rowsToPts(nsRows), ...pairsToPts(nsScatter), ...nsTopX.map(x => ({x, y: 100}))];
const upPts = [...rowsToPts(upRows), ...pairsToPts(upFill), ...pairsToPts(upScatter), ...upTopX.map(x => ({x, y: 100})), ...upColY.map(y => ({x: 10, y}))];
const downPts = [...rowsToPts(downRows), ...pairsToPts(downFill), ...rowsToPts(downRowsOuter), ...pairsToPts(downScatter), ...downTopX.map(x => ({x, y: 100})), ...downColY.map(y => ({x: -10, y}))];

const leftDecor = {
  id: 'leftDecor',
  afterDatasetsDraw(chart) {
    const {ctx, chartArea: a, scales: {x, y}} = chart;
    ctx.save();
    ctx.strokeStyle = '#3a3a3a'; ctx.lineWidth = 1.4; ctx.setLineDash([6, 4]);
    volcanoVLines.forEach(v => { const px = Math.round(x.getPixelForValue(v)) + 0.5; ctx.beginPath(); ctx.moveTo(px, a.top); ctx.lineTo(px, a.bottom); ctx.stroke(); });
    const hy = Math.round(y.getPixelForValue(volcanoHLine)) + 0.5;
    ctx.beginPath(); ctx.moveTo(a.left, hy); ctx.lineTo(a.right, hy); ctx.stroke();
    ctx.setLineDash([]);
    ctx.strokeStyle = '#808080'; ctx.lineWidth = 1.5;
    ctx.strokeRect(a.left, a.top, a.right - a.left, a.bottom - a.top);
    ctx.fillStyle = LBL; ctx.font = 'italic 19px ' + FF; ctx.textBaseline = 'middle';
    volcanoLabels.forEach(([t, lx, ly, al]) => { ctx.textAlign = al; ctx.fillText(t, x.getPixelForValue(lx), y.getPixelForValue(ly)); });
    ctx.textAlign = 'left'; ctx.font = '19px ' + FF;
    [[C_UP, 343], [C_DOWN, 381]].forEach(([c, cy], i) => {
      ctx.beginPath(); ctx.fillStyle = c; ctx.arc(513, cy, 7.5, 0, Math.PI * 2); ctx.fill();
      ctx.fillStyle = '#000'; ctx.fillText(legendNames[i], 532, cy + 1);
    });
    ctx.restore();
    ctx.save();
    ctx.textAlign = 'center'; ctx.textBaseline = 'alphabetic'; ctx.fillStyle = '#000';
    ctx.font = '36px ' + FF; ctx.fillText('Overall', 279, 59);
    ctx.textAlign = 'left'; ctx.font = '23px ' + FF; ctx.fillText(volcanoSubtitle, 107, 149);
    ctx.restore();
    rich(ctx, [['log', 24], ['2', 17, 6], ['(Fold Change)', 24]], 302, 565, 0);
    rich(ctx, [['\u2212log', 29], ['10', 20, 7], ['(adj ', 29], ['P', 29, 0, 'italic'], [' value)', 29]], 57, 341, -Math.PI / 2);
  }
};

new Chart(document.getElementById('c1'), {
  type: 'scatter',
  data: { datasets: [
    {data: nsPts, pointRadius: 2.1, pointBorderWidth: 0, backgroundColor: 'rgba(190,190,190,0.75)'},
    {data: upPts, pointRadius: 2.1, pointBorderWidth: 0, backgroundColor: 'rgba(255,165,0,0.8)'},
    {data: downPts, pointRadius: 2.1, pointBorderWidth: 0, backgroundColor: 'rgba(160,32,240,0.8)'}
  ]},
  options: {
    responsive: false, animation: false, events: [],
    layout: {padding: {top: 165, right: 130, left: 0, bottom: 0}},
    plugins: {legend: {display: false}, tooltip: {enabled: false}},
    scales: {
      x: {type: 'linear', min: -11.03, max: 10.92,
        afterBuildTicks: s => { s.ticks = volcanoXTicks.map(v => ({value: v})); },
        afterFit: s => { s.height = 93; },
        ticks: {font: {size: 19, family: FF}, color: '#4d4d4d', padding: 2, callback: v => fmtMinus(v), maxRotation: 0},
        grid: {drawOnChartArea: false, drawTicks: true, tickLength: 5, color: '#333', lineWidth: 1.2},
        border: {display: false}},
      y: {type: 'linear', min: -5.85, max: 115.2,
        afterBuildTicks: s => { s.ticks = volcanoYTicks.map(v => ({value: v})); },
        afterFit: s => { s.width = 107; },
        ticks: {font: {size: 19, family: FF}, color: '#4d4d4d', padding: 3, callback: v => fmtMinus(v)},
        grid: {drawOnChartArea: false, drawTicks: true, tickLength: 5, color: '#333', lineWidth: 1.2},
        border: {display: false}}
    }
  },
  plugins: [leftDecor]
});

// ================= RIGHT CHART =================
const upPlainPts = [...jitterPts(upInfla, 1), ...jitterPts(upFibro, 2), ...jitterPts(upNeutro, 3), ...jitterPts(upMoKC, 4)];
const downPlainPts = [...jitterPts(downInfla, 1), ...jitterPts(downFibro, 2), ...jitterPts(downNeutro, 3), ...jitterPts(downMoKC, 4),
  ...floorInfla.map(j => ({x: 1 + j, y: -10})), ...floorFibro.map(j => ({x: 2 + j, y: -10}))];
const upLabPts = upLabelled.map(([g, c, j, y]) => ({x: c + j, y}));
const downLabPts = downLabelled.map(([g, c, j, y]) => ({x: c + j, y}));

const rightDecor = {
  id: 'rightDecor',
  beforeDatasetsDraw(chart) {
    const {ctx, scales: {x, y}} = chart;
    ctx.save();
    ctx.fillStyle = '#f8f8f8';
    cellTypes.forEach((c, i) => {
      const x0 = x.getPixelForValue(i + 1 - 0.452), x1 = x.getPixelForValue(i + 1 + 0.452);
      const y0 = y.getPixelForValue(11.08), y1 = y.getPixelForValue(-11.08);
      ctx.fillRect(x0, y0, x1 - x0, y1 - y0);
    });
    ctx.restore();
  },
  afterDatasetsDraw(chart) {
    const {ctx, scales: {x, y}} = chart;
    ctx.save();
    cellTypes.forEach((c, i) => {
      const x0 = x.getPixelForValue(i + 1 - 0.492), x1 = x.getPixelForValue(i + 1 + 0.492);
      const y0 = y.getPixelForValue(0.82), y1 = y.getPixelForValue(-0.87);
      ctx.fillStyle = stripColors[i]; ctx.fillRect(x0, y0, x1 - x0, y1 - y0);
      ctx.strokeStyle = 'rgba(220,230,240,0.9)'; ctx.lineWidth = 1; ctx.strokeRect(x0 + 0.5, y0 + 0.5, x1 - x0 - 1, y1 - y0 - 1);
      ctx.fillStyle = '#111'; ctx.font = '19px ' + FF; ctx.textAlign = 'center'; ctx.textBaseline = 'middle';
      ctx.fillText(c, (x0 + x1) / 2, (y0 + y1) / 2 + 1);
    });
    ctx.strokeStyle = '#9a9a9a'; ctx.lineWidth = 1.3;
    cellLeaders.forEach(([a, b, c, d]) => { ctx.beginPath(); ctx.moveTo(x.getPixelForValue(a), y.getPixelForValue(b)); ctx.lineTo(x.getPixelForValue(c), y.getPixelForValue(d)); ctx.stroke(); });
    ctx.fillStyle = LBL; ctx.font = 'italic 19px ' + FF; ctx.textAlign = 'left'; ctx.textBaseline = 'middle';
    cellLabels.forEach(([t, lx, ly]) => ctx.fillText(t, x.getPixelForValue(lx), y.getPixelForValue(ly)));
    ctx.font = '19px ' + FF;
    [[C_UP, 253], [C_DOWN, 283]].forEach(([c, cy], i) => {
      ctx.beginPath(); ctx.fillStyle = c; ctx.arc(1147 - 620, cy, 9.5, 0, Math.PI * 2); ctx.fill();
      ctx.fillStyle = '#000'; ctx.fillText(legendNames[i], 1169 - 620, cy + 1);
    });
    ctx.textAlign = 'center'; ctx.textBaseline = 'alphabetic'; ctx.font = '36px ' + FF;
    ctx.fillText('Celltypes', 984 - 620, 58);
    ctx.restore();
    rich(ctx, [['log', 23.5], ['2', 16, 6], ['(Fold Change)', 23.5]], 664 - 620, 356, -Math.PI / 2);
  }
};

new Chart(document.getElementById('c2'), {
  type: 'scatter',
  data: { datasets: [
    {data: upPlainPts, pointRadius: 4.7, pointBorderWidth: 0, backgroundColor: 'rgba(255,165,0,0.95)', clip: false},
    {data: downPlainPts, pointRadius: 4.7, pointBorderWidth: 0, backgroundColor: 'rgba(160,32,240,0.95)', clip: false},
    {data: upLabPts, pointRadius: 5, pointBorderWidth: 2.5, borderColor: '#7f7f7f', backgroundColor: C_UP, clip: false},
    {data: downLabPts, pointRadius: 5, pointBorderWidth: 2.5, borderColor: '#7f7f7f', backgroundColor: C_DOWN, clip: false}
  ]},
  options: {
    responsive: false, animation: false, events: [],
    layout: {padding: {top: 156, right: 44, left: 0, bottom: 64}},
    plugins: {legend: {display: false}, tooltip: {enabled: false}},
    scales: {
      x: {type: 'linear', min: 0.388, max: 4.5, display: false},
      y: {type: 'linear', min: -10, max: 10,
        afterBuildTicks: s => { s.ticks = cellYTicks.map(v => ({value: v})); },
        afterFit: s => { s.width = 102; },
        ticks: {font: {size: 19, family: FF}, color: '#000', padding: 4, callback: v => (v < 0 ? '\u2212' : '') + Math.abs(v).toFixed(1)},
        grid: {drawOnChartArea: false, drawTicks: true, tickLength: 6, color: '#000', lineWidth: 1.5},
        border: {display: true, color: '#000', width: 2}}
    }
  },
  plugins: [rightDecor]
});
</script></body></html>
